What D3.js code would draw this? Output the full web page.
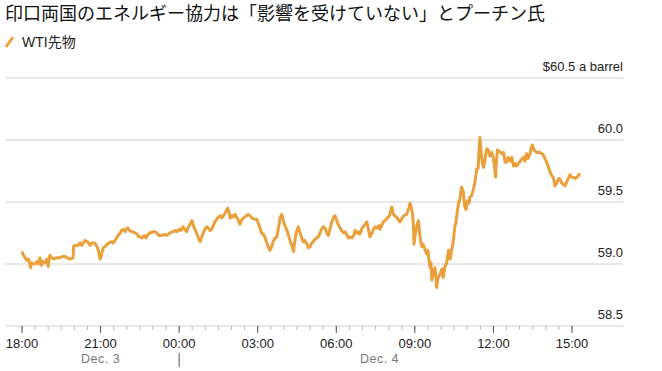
<!DOCTYPE html>
<html><head><meta charset="utf-8">
<script src="https://cdn.jsdelivr.net/npm/d3@7"></script>
<style>
body{margin:0;background:#fff;}
svg{display:block;font-family:"Liberation Sans",Arial,sans-serif;}
</style></head>
<body>
<svg id="c" width="662" height="371"></svg>
<script>
const title = "印口両国のエネルギー協力は「影響を受けていない」とプーチン氏";
const seriesName = "WTI先物";
const unitLabel = "$60.5 a barrel";
const yTicks = [58.5, 59.0, 59.5, 60.0, 60.5];
const yTickLabels = ["58.5", "59.0", "59.5", "60.0"];
const xTickLabels = ["18:00","21:00","00:00","03:00","06:00","09:00","12:00","15:00"];
const dayLabels = ["Dec. 3", "Dec. 4"];
// minutes after 18:00 Dec. 3
const minutes = [0,2,7,11,15,20,21,26,30,34,38,41,45,48,53,57,60,62,64,68,73,78,82,87,92,99,103,110,117,118,121,128,133,137,144,149,152,156,160,167,172,175,179,181,186,190,195,199,206,209,213,217,220,225,228,232,236,241,243,247,251,254,259,264,267,270,275,280,284,289,293,300,305,309,314,320,325,330,335,339,344,346,351,355,360,364,369,373,377,380,385,389,392,396,400,403,408,411,415,419,423,427,431,435,438,442,446,450,454,458,463,467,471,474,477,481,484,488,493,496,499,504,507,511,518,522,527,534,538,541,545,549,553,557,560,564,568,572,575,580,584,588,591,595,598,601,606,609,614,619,622,624,628,633,637,640,644,648,653,656,660,664,669,675,679,683,686,690,694,698,702,706,709,713,717,721,724,729,732,737,740,745,748,751,756,760,763,768,771,774,779,784,786,790,793,797,802,805,809,813,818,820,825,828,832,836,841,844,847,850,853,858,863,866,871,875,881,886,889,892,895,897,898,900,904,908,911,913,916,919,922,927,930,932,935,937,939,942,944,946,949,950,953,958,962,965,969,973,977,981,984,987,990,992,994,997,1000,1003,1007,1011,1014,1017,1021,1024,1026,1030,1033,1036,1038,1042,1045,1047,1049,1052,1054,1057,1060,1063,1065,1068,1072,1076,1080,1083,1085,1086,1089,1093,1099,1103,1107,1110,1114,1118,1122,1126,1130,1133,1137,1141,1146,1149,1152,1156,1159,1164,1166,1169,1173,1179,1185,1191,1194,1198,1202,1205,1210,1214,1217,1221,1226,1230,1233,1237,1244,1249,1255,1259,1263,1267,1271,1274,1278];
const prices = [59.10,59.08,59.05,59.03,59.04,58.97,59.01,59.00,59.00,59.02,59.00,59.05,58.99,59.02,59.01,59.04,58.98,59.04,59.07,59.05,59.04,59.05,59.05,59.05,59.06,59.06,59.05,59.04,59.05,59.14,59.15,59.15,59.17,59.15,59.19,59.18,59.17,59.15,59.17,59.17,59.14,59.11,59.04,59.06,59.13,59.14,59.16,59.17,59.18,59.17,59.19,59.21,59.23,59.25,59.27,59.28,59.26,59.29,59.29,59.27,59.26,59.26,59.25,59.24,59.22,59.22,59.21,59.23,59.21,59.24,59.25,59.26,59.26,59.25,59.23,59.23,59.24,59.23,59.24,59.25,59.26,59.26,59.27,59.26,59.28,59.27,59.30,59.28,59.26,59.29,59.32,59.35,59.32,59.28,59.25,59.22,59.18,59.21,59.25,59.28,59.30,59.29,59.27,59.28,59.31,59.34,59.36,59.38,59.39,59.37,59.40,59.42,59.45,59.42,59.37,59.39,59.38,59.40,59.37,59.35,59.32,59.36,59.37,59.38,59.40,59.39,59.37,59.36,59.36,59.33,59.29,59.25,59.24,59.21,59.18,59.14,59.11,59.14,59.18,59.21,59.22,59.30,59.37,59.40,59.36,59.32,59.28,59.25,59.19,59.14,59.10,59.16,59.25,59.30,59.25,59.22,59.18,59.19,59.16,59.13,59.14,59.17,59.19,59.21,59.22,59.25,59.28,59.30,59.29,59.25,59.23,59.29,59.33,59.37,59.39,59.35,59.32,59.29,59.27,59.25,59.26,59.23,59.21,59.22,59.21,59.23,59.27,59.25,59.26,59.24,59.29,59.31,59.32,59.34,59.29,59.22,59.25,59.28,59.30,59.29,59.31,59.28,59.32,59.34,59.35,59.37,59.38,59.42,59.46,59.41,59.39,59.38,59.35,59.34,59.37,59.39,59.40,59.45,59.49,59.45,59.40,59.27,59.16,59.22,59.30,59.35,59.25,59.19,59.14,59.16,59.13,59.08,59.11,59.04,58.97,59.01,58.87,58.95,58.91,58.97,58.87,58.81,58.89,58.92,58.96,58.89,58.98,59.01,59.11,59.04,59.11,59.16,59.25,59.31,59.33,59.42,59.49,59.52,59.62,59.58,59.47,59.44,59.51,59.49,59.54,59.55,59.59,59.63,59.67,59.77,59.77,59.92,60.02,59.90,59.83,59.78,59.82,59.90,59.93,59.92,59.87,59.90,59.85,59.77,59.70,59.79,59.92,59.91,59.89,59.90,59.82,59.82,59.86,59.83,59.86,59.79,59.81,59.79,59.81,59.83,59.85,59.86,59.83,59.89,59.85,59.89,59.93,59.96,59.92,59.90,59.90,59.89,59.88,59.85,59.82,59.79,59.74,59.71,59.70,59.63,59.66,59.69,59.68,59.65,59.63,59.67,59.72,59.70,59.70,59.69,59.70,59.71,59.73];

const t0 = new Date(2025, 11, 3, 18, 0);
const tMid = new Date(2025, 11, 4, 0, 0);
const tEndTick = new Date(2025, 11, 4, 15, 0);
const data = minutes.map((m, i) => ({t: new Date(t0.getTime() + m * 60000), v: prices[i]}));

const svg = d3.select("#c");
const left = 5, right = 623;
const x = d3.scaleTime().domain([t0, tEndTick]).range([22, 572]);
const y = d3.scaleLinear().domain([58.5, 60.5]).range([326, 78]);

// title
svg.append("text").attr("x", 5).attr("y", 20)
  .attr("font-family", "'Noto Sans CJK JP', sans-serif").attr("font-size", 18).attr("fill", "#111")
  .text(title);

// legend
svg.append("line").attr("x1", 6).attr("y1", 47).attr("x2", 13).attr("y2", 37)
  .attr("stroke", "#eaa03a").attr("stroke-width", 3);
svg.append("text").attr("x", 22).attr("y", 47)
  .attr("font-family", "'Liberation Sans', 'Noto Sans CJK JP', sans-serif").attr("font-size", 14).attr("fill", "#222")
  .text(seriesName);

// gridlines
svg.append("g").selectAll("line").data(yTicks).join("line")
  .attr("x1", left).attr("x2", right).attr("y1", d => y(d)).attr("y2", d => y(d))
  .attr("stroke", "#e0e0e0").attr("stroke-width", 1.5);

// y labels
svg.append("g").selectAll("text").data(yTicks.slice(0, 4)).join("text")
  .attr("x", right).attr("y", d => y(d) - 7).attr("text-anchor", "end")
  .attr("font-size", 13).attr("fill", "#222")
  .text((d, i) => yTickLabels[i]);
svg.append("text").attr("x", right).attr("y", y(60.5) - 7).attr("text-anchor", "end")
  .attr("font-size", 13).attr("fill", "#222").text(unitLabel);

// x axis ticks
const minor = d3.timeMinute.every(30).range(t0, new Date(tEndTick.getTime() + 1));
svg.append("g").selectAll("line").data(minor).join("line")
  .attr("x1", d => x(d)).attr("x2", d => x(d)).attr("y1", 326).attr("y2", 330)
  .attr("stroke", "#bbb").attr("stroke-width", 1);
const major = d3.timeHour.every(3).range(t0, new Date(tEndTick.getTime() + 1));
svg.append("g").selectAll("line").data(major).join("line")
  .attr("x1", d => x(d)).attr("x2", d => x(d)).attr("y1", 326).attr("y2", 333)
  .attr("stroke", "#555").attr("stroke-width", 1);
svg.append("g").selectAll("text").data(major).join("text")
  .attr("x", d => x(d)).attr("y", 348).attr("text-anchor", "middle")
  .attr("font-size", 13).attr("fill", "#222")
  .text((d, i) => xTickLabels[i]);

// day labels
const tDataEnd = data[data.length - 1].t;
svg.append("line").attr("x1", x(tMid)).attr("x2", x(tMid)).attr("y1", 353).attr("y2", 367)
  .attr("stroke", "#555").attr("stroke-width", 1);
svg.append("text").attr("x", (x(t0) + x(tMid)) / 2).attr("y", 363).attr("text-anchor", "middle")
  .attr("font-size", 12.5).attr("fill", "#777").attr("letter-spacing", 0.5).text(dayLabels[0]);
svg.append("text").attr("x", (x(tMid) + x(tDataEnd)) / 2).attr("y", 363).attr("text-anchor", "middle")
  .attr("font-size", 12.5).attr("fill", "#777").attr("letter-spacing", 0.5).text(dayLabels[1]);

// line
svg.append("path").datum(data)
  .attr("fill", "none").attr("stroke", "#eaa03a").attr("stroke-width", 3)
  .attr("stroke-linejoin", "round")
  .attr("d", d3.line().x(d => x(d.t)).y(d => y(d.v)));
</script>
</body></html>
